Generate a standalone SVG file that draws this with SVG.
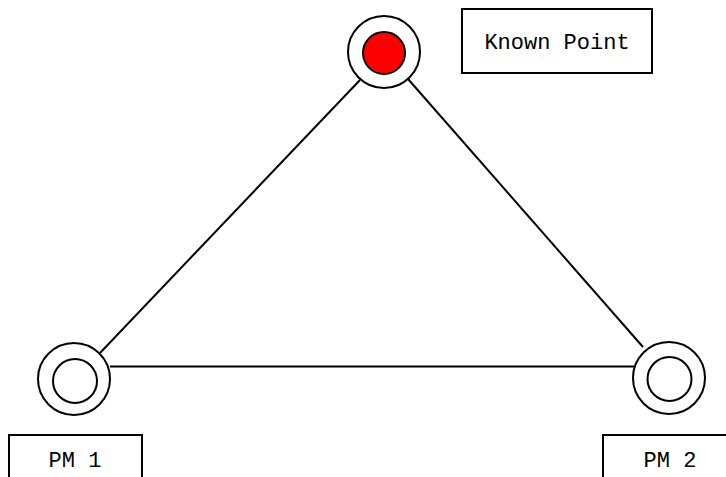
<svg xmlns="http://www.w3.org/2000/svg" width="726" height="477" viewBox="0 0 726 477">
<style>
.ring{fill:#fff;stroke:#000;stroke-width:2}
.box{fill:#fff;stroke:#000;stroke-width:2}
.edge{stroke:#000;stroke-width:2;fill:none}
text{font-family:"Liberation Mono","DejaVu Sans Mono",monospace;font-size:22px;fill:#000;text-anchor:middle}
</style>
<rect width="726" height="477" fill="#fff"/>
<g id="connectors">
<line class="edge" x1="360" y1="80" x2="100" y2="353"/>
<line class="edge" x1="408" y1="79" x2="643" y2="347"/>
<line class="edge" x1="110" y1="366.5" x2="634" y2="366.5"/>
</g>
<g id="known-point">
<circle class="ring" cx="384" cy="52" r="36"/>
<circle cx="384" cy="53" r="21" fill="#f00" stroke="#000" stroke-width="2"/>
</g>
<g id="known-point-label">
<rect class="box" x="462" y="9" width="190" height="64"/>
<text x="557" y="49">Known Point</text>
</g>
<g id="pm1">
<circle class="ring" cx="74" cy="379" r="36"/>
<circle class="ring" cx="75" cy="381" r="22"/>
</g>
<g id="pm1-label">
<rect class="box" x="9" y="435" width="133" height="60"/>
<text x="75" y="467">PM 1</text>
</g>
<g id="pm2">
<circle class="ring" cx="669" cy="378" r="36"/>
<circle class="ring" cx="669.5" cy="379" r="22"/>
</g>
<g id="pm2-label">
<rect class="box" x="603" y="435" width="140" height="60"/>
<text x="670" y="467">PM 2</text>
</g>
</svg>
